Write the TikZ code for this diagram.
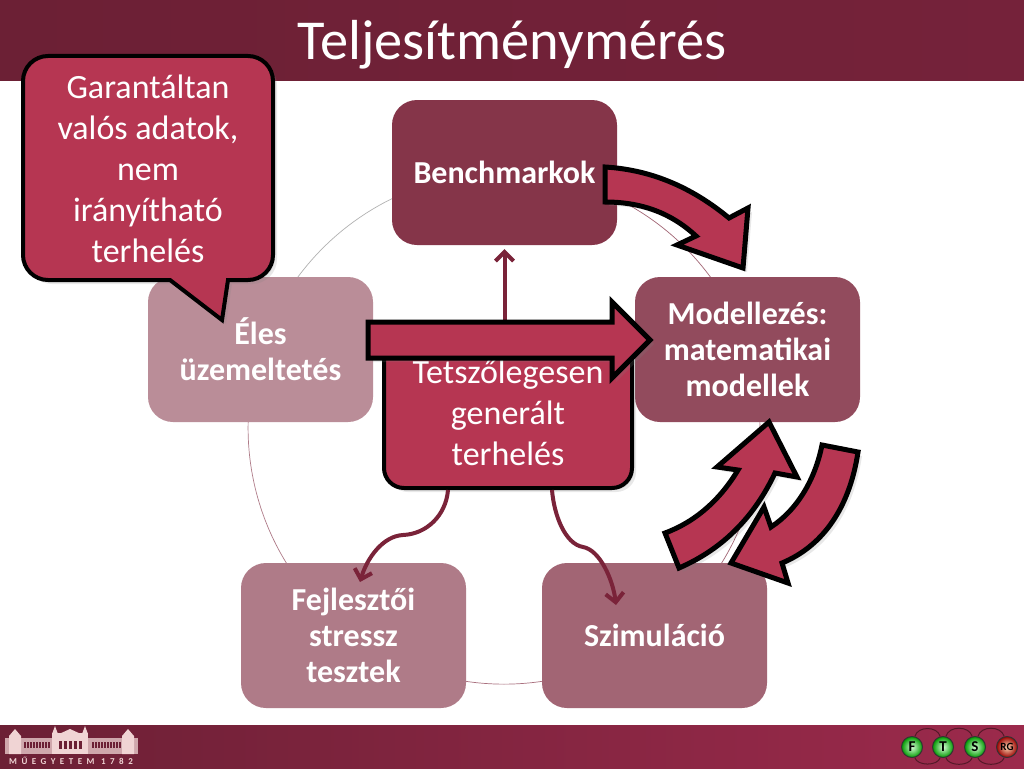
\documentclass[tikz,border=0pt]{standalone}
\usepackage{fontspec}
\setmainfont{Carlito}
\newfontfamily\logofont[LetterSpace=50]{Carlito}
\usetikzlibrary{shadows,arrows.meta}
\definecolor{barleft}{HTML}{6C2035}
\definecolor{barmid}{HTML}{75223A}
\definecolor{barright}{HTML}{9C2A4C}
\definecolor{rose}{HTML}{B63652}
\definecolor{wine}{HTML}{7A2339}
\definecolor{pale}{HTML}{F0D4D4}
\tikzset{
  shade1/.style={drop shadow={opacity=.18,shadow xshift=2pt,shadow yshift=-2pt},
    drop shadow={opacity=.18,shadow xshift=4pt,shadow yshift=-4pt}},
  card/.style={minimum width=225pt,minimum height=145pt,rounded corners=25pt,text=white,
    align=center,font=\fontsize{32}{36}\selectfont\bfseries},
  hilite/.style={draw=black,line width=4pt,fill=rose,shade1,text=white,align=center,
    font=\fontsize{34}{41}\selectfont},
  bigarrow/.style={draw=black,line width=5pt,fill=rose,miter limit=6,shade1},
  link/.style={draw=wine,line width=4pt,-{Straight Barb[length=9pt,width=18pt]}},
  ring/.style={line width=.7pt,bend left=36,looseness=.94},
  ball/.style={circle,draw=black!80,line width=1pt,inner sep=0pt,minimum size=21pt,
    text=black,font=\fontsize{15}{15}\selectfont\bfseries},
  chain/.style={draw=wine!70!black,line width=1pt}
}
\begin{document}
\begin{tikzpicture}[x=1pt,y=-1pt]
  \useasboundingbox (0,0) rectangle (1024,768);
  \fill[white] (0,0) rectangle (1024,768);
  % bars
  \fill[left color=barleft,right color=barmid] (0,0) rectangle (1024,80);
  \fill[left color=barleft,middle color=barmid,right color=barright] (0,725) rectangle (1024,768);
  \node[text=white,font=\fontsize{56.4}{60}\selectfont] (title) at (512,45) {Teljesítménymérés};
  % cycle
  \coordinate (bench0) at (504.5,172.5);
  \coordinate (model0) at (747.5,349.5);
  \coordinate (simu0) at (654.5,635.5);
  \coordinate (stress0) at (353.5,635.5);
  \coordinate (live0) at (260.5,349.5);
  \draw[ring,draw=wine!70] (bench0) to (model0);
  \draw[ring,draw=wine!70] (model0) to (simu0);
  \draw[ring,draw=wine!65] (simu0) to (stress0);
  \draw[ring,draw=wine!60] (stress0) to (live0);
  \draw[ring,draw=black!30] (live0) to (bench0);
  \node[card,fill=wine!92!white] (bench) at (bench0) {Benchmarkok};
  \node[card,fill=wine!82!white] (model) at (model0) {Modellezés:\\matematikai\\modellek};
  \node[card,fill=wine!70!white] (simu) at (simu0) {Szimuláció};
  \node[card,fill=wine!60!white] (stress) at (stress0) {Fejlesztői\\stressz\\tesztek};
  \node[card,fill=wine!52!white] (live) at (live0) {Éles\\üzemeltetés};
  % load box
  \node[hilite,rounded corners=20pt,minimum width=248pt,minimum height=150pt] (load) at (508,413)
    {Tetszőlegesen\\generált\\terhelés};
  \coordinate (stressin) at (360,582);
  \coordinate (simuin) at (616,605);
  \draw[link,shorten >=4pt] (bench.south |- load.north) -- (bench.south);
  \draw[link] ([xshift=-60pt]load.south) .. controls (446,515) and (427,534) .. (403,535)
    .. controls (383,536) and (367,558) .. (stressin);
  \draw[link] ([xshift=44pt]load.south) .. controls (554,515) and (565,544) .. (583,547)
    .. controls (600,550) and (613,580) .. (simuin);
  % big arrows
  \draw[bigarrow] (605,167) .. controls (655,170) and (695,190) .. (729,218) -- (748,208)
    -- (743,268) -- (677,245) -- (696,236) .. controls (670,212) and (640,202) .. (605,202) -- cycle;
  \draw[bigarrow] (665,533) .. controls (695,522) and (720,500) .. (738,470) -- (717,467)
    -- (769,422) -- (797,477) -- (775,473) .. controls (755,515) and (725,548) .. (679,568) -- cycle;
  \draw[bigarrow] (822,445) -- (858,452) .. controls (850,505) and (825,545) .. (782,563)
    -- (788,583) -- (731,563) -- (764,507) -- (771,527) .. controls (797,510) and (815,480) .. (822,445) -- cycle;
  \draw[bigarrow,miter limit=10] (368,322) -- (612,322) -- (612,302) -- (650,340) -- (612,378)
    -- (612,358) -- (368,358) -- cycle;
  % callout
  \draw[bigarrow,line width=4pt] (48,56) -- (248,56) arc[start angle=-90,end angle=0,radius=25]
    -- (273,255) arc[start angle=0,end angle=90,radius=25] -- (228,280) -- (222,320) -- (170,280) -- (48,280)
    arc[start angle=90,end angle=180,radius=25] -- (23,81) arc[start angle=180,end angle=270,radius=25] -- cycle;
  \node[text=white,align=center,font=\fontsize{34}{41}\selectfont] (note) at (148,169)
    {Garantáltan\\valós adatok,\\nem\\irányítható\\terhelés};
  % logo building
  \fill[pale!75!barleft] (5,738) rectangle (138,754);
  \fill[pale] (52,733) rectangle (88,754);
  \fill[pale] (9,736) -- (15,729) -- (21,736) -- (21,754) -- (9,754) -- cycle;
  \fill[pale] (122,736) -- (128,729) -- (134,736) -- (134,754) -- (122,754) -- cycle;
  \fill[pale] (52,734) -- (55,726) -- (58,734) -- cycle;
  \fill[pale] (82,734) -- (85,726) -- (88,734) -- cycle;
  \fill[pale] (59,734) -- (70,729) -- (81,734) -- cycle;
  \foreach \wx in {24,27,...,48,92,95,...,119}
    \fill[barleft] (\wx,742) rectangle +(1.5,6);
  \foreach \wx in {59,64,...,79}
    \fill[barleft] (\wx,741) rectangle +(2.5,8);
  \node[text=pale,font=\fontsize{9}{9}\selectfont\logofont\bfseries,inner sep=0pt] (motto) at (71,761) {MŰEGYETEM 1782};
  % logo chain
  \node[ball,shading=radial,inner color=green!15!white,outer color=green!60!black] (ballf) at (912,747) {F};
  \node[ball,shading=radial,inner color=green!15!white,outer color=green!60!black] (ballt) at (943,747) {T};
  \node[ball,shading=radial,inner color=green!15!white,outer color=green!60!black] (balls) at (975,747) {S};
  \node[ball,shading=radial,inner color=orange!30!white,outer color=red!60!black,
    font=\fontsize{11}{11}\selectfont\bfseries] (ballrg) at (1007,747) {RG};
  \draw[chain] (ballf) to[out=75,in=105,looseness=1.1] (ballt);
  \draw[chain] (ballt) to[out=75,in=105,looseness=1.1] (balls);
  \draw[chain] (balls) to[out=75,in=105,looseness=1.1] (ballrg);
  \draw[chain] (ballf) to[out=-75,in=-105,looseness=.9] (ballt);
  \draw[chain] (ballt) to[out=-75,in=-105,looseness=.9] (balls);
  \draw[chain] (balls) to[out=-75,in=-105,looseness=.9] (ballrg);
\end{tikzpicture}
\end{document}
